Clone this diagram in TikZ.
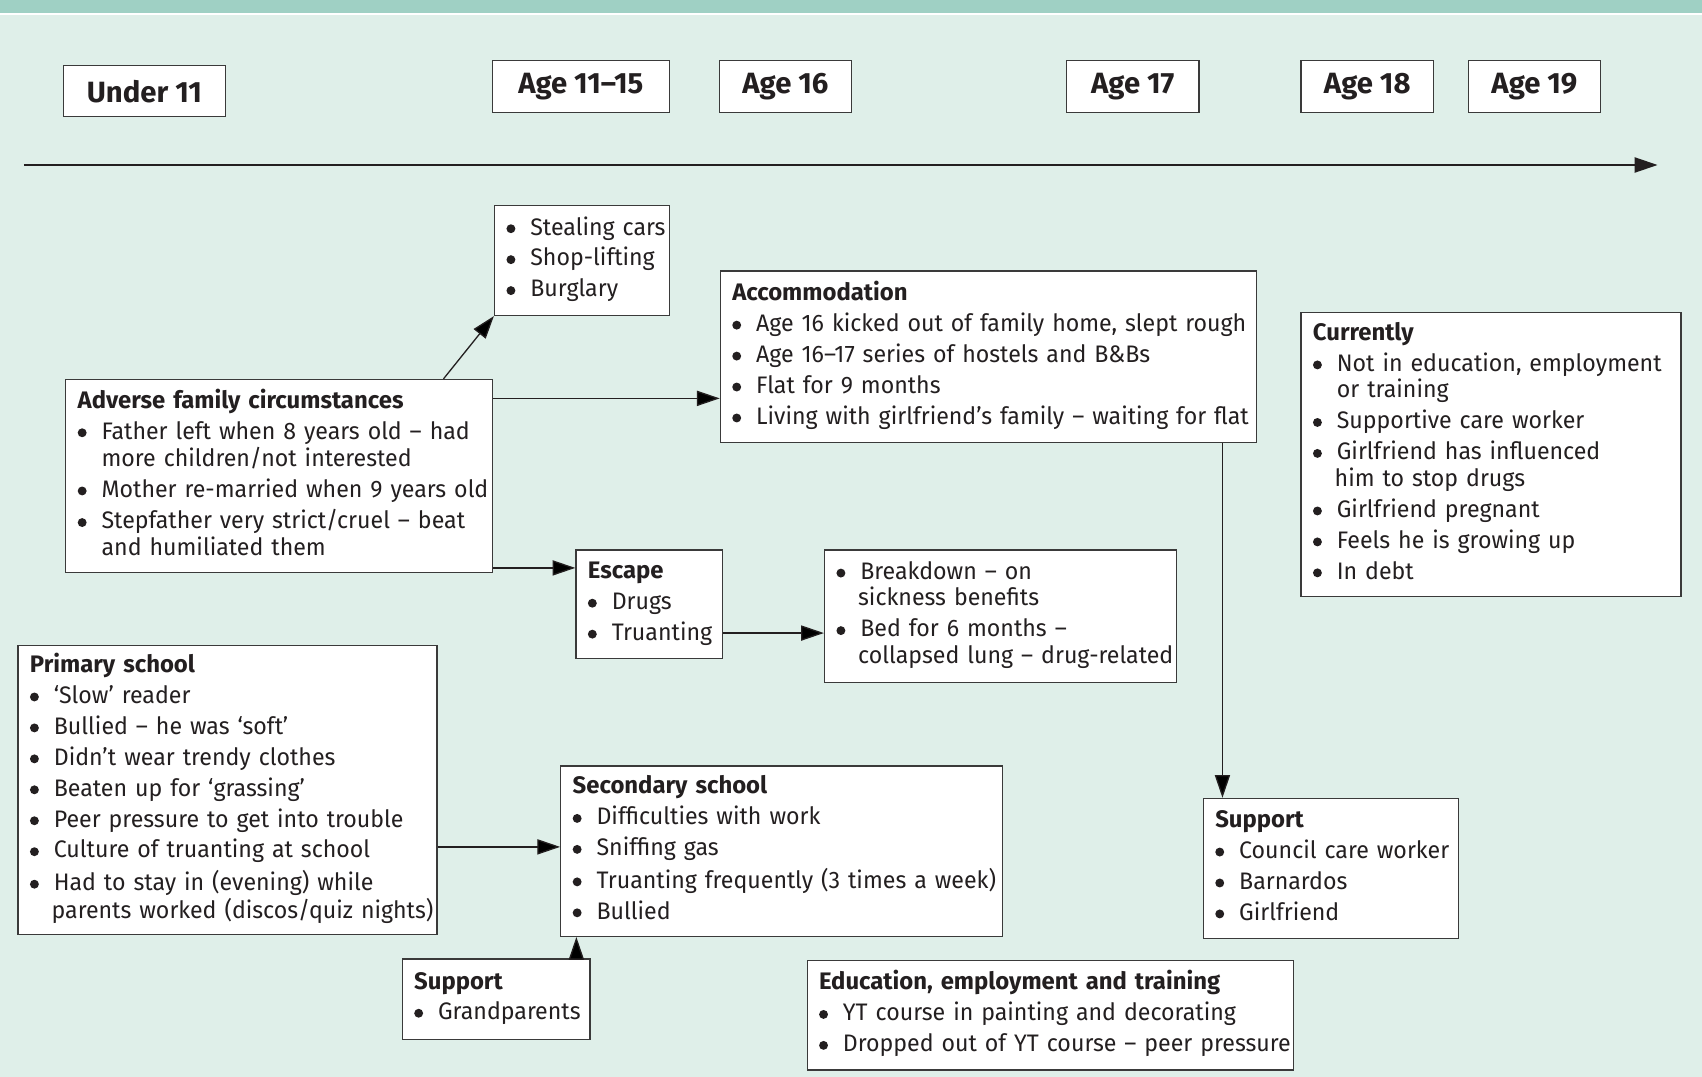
\documentclass[tikz,border=0pt]{standalone}
\usepackage{fontspec}
\setmainfont{Fira Sans}[UprightFeatures={FakeStretch=0.97}]
\usetikzlibrary{arrows.meta,calc}
\definecolor{mint}{HTML}{DFEFE9}
\definecolor{band}{HTML}{9FD0C4}
\definecolor{edge}{HTML}{3A3A3A}
\definecolor{ink}{HTML}{231F20}
% round bullet and hanging indent for list lines
\newcommand\bl{\makebox[11pt][l]{\tikz[baseline=0pt,x=1pt,y=1pt]\fill[ink] (2.1,2.9) circle[radius=2.05];}}
\newcommand\ct{\hspace*{11pt}}
\newcommand\hd[1]{\textbf{#1}}
\newcommand\lines[1]{\begin{tabular}{@{}l@{}}#1\end{tabular}}
\begin{document}
\begin{tikzpicture}[x=0.5pt,y=-0.5pt,
  box/.style={draw=edge, fill=white, line width=0.6pt, anchor=north west,
    align=left, inner xsep=5.5pt, inner ysep=0pt, text=ink,
    font=\fontsize{11}{12.25}\selectfont},
  agebox/.style={draw=edge, fill=white, line width=0.6pt, anchor=north west,
    inner sep=0pt, minimum height=24pt, text=ink,
    font=\fontsize{13.5}{15}\selectfont\bfseries},
  arr/.style={draw=ink, line width=0.6pt, -{Triangle[length=10.5pt,width=7pt]}},
]
% background and top band
\useasboundingbox (0,0) rectangle (1568,992);
\fill[mint] (0,0) rectangle (1568,992);
\fill[band] (0,0) rectangle (1568,11.7);
\fill[white] (0,11.7) rectangle (1568,13.8);

% age headings
\node[agebox, minimum width=74.5pt, minimum height=23.5pt] (u11) at (58,60) {Under 11};
\node[agebox, minimum width=81.5pt] (a1115) at (453,55) {Age 11--15};
\node[agebox, minimum width=61pt] (a16) at (662,55) {Age 16};
\node[agebox, minimum width=61pt] (a17) at (982,55) {Age 17};
\node[agebox, minimum width=61pt] (a18) at (1198,55) {Age 18};
\node[agebox, minimum width=61pt] (a19) at (1352,55) {Age 19};

% timeline
\coordinate (tl0) at (22,152);
\coordinate (tl1) at (1527,152);
\draw[arr] (tl0) -- (tl1);

% boxes
\node[box, text width=69.5pt, minimum height=50.5pt] (steal) at (455,189) {\lines{%
\bl Stealing cars\\[2pt]
\bl Shop-lifting\\[2pt]
\bl Burglary}};

\node[box, text width=236pt, minimum height=79pt] (accom) at (663,249) {\lines{%
\hd{Accommodation}\\[2pt]
\bl Age 16 kicked out of family home, slept rough\\[2pt]
\bl Age 16--17 series of hostels and B\&Bs\\[2pt]
\bl Flat for 9 months\\[2pt]
\bl Living with girlfriend's family -- waiting for flat}};

\node[box, text width=164pt, minimum height=131pt] (current) at (1198,287) {\lines{%
\hd{Currently}\\[2pt]
\bl Not in education, employment\\
\ct or training\\[2pt]
\bl Supportive care worker\\[2pt]
\bl Girlfriend has influenced\\
\hspace*{10pt}him to stop drugs\\[2pt]
\bl Girlfriend pregnant\\[2pt]
\bl Feels he is growing up\\[2pt]
\bl In debt}};

\node[box, text width=185.5pt, minimum height=89pt] (adverse) at (60,349) {\lines{%
\hd{Adverse family circumstances}\\[2pt]
\bl Father left when 8 years old -- had\\
\ct more children/not interested\\[2pt]
\bl Mother re-married when 9 years old\\[2pt]
\bl Stepfather very strict/cruel -- beat\\
\ct and humiliated them}};

\node[box, text width=56.5pt, minimum height=50pt] (escape) at (530,506) {\lines{%
\hd{Escape}\\[2pt]
\bl Drugs\\[2pt]
\bl Truanting}};

\node[box, text width=151pt, minimum height=61pt] (breakdown) at (759,506) {\lines{%
\bl Breakdown -- on\\
\hspace*{10pt}sickness benefits\\[2pt]
\bl Bed for 6 months --\\
\hspace*{10pt}collapsed lung -- drug-related}};

\node[box, text width=182pt, minimum height=133pt] (primary) at (16,594) {\lines{%
\hd{Primary school}\\[2pt]
\bl `Slow' reader\\[2pt]
\bl Bullied -- he was `soft'\\[2pt]
\bl Didn't wear trendy clothes\\[2pt]
\bl Beaten up for `grassing'\\[2pt]
\bl Peer pressure to get into trouble\\[2pt]
\bl Culture of truanting at school\\[2pt]
\bl Had to stay in (evening) while\\
\hspace*{10pt}parents worked (discos/quiz nights)}};

\node[box, text width=192.5pt, minimum height=78.5pt] (secondary) at (516,705) {\lines{%
\hd{Secondary school}\\[2pt]
\bl Difficulties with work\\[2pt]
\bl Sniffing gas\\[2pt]
\bl Truanting frequently (3 times a week)\\[2pt]
\bl Bullied}};

\node[box, text width=106.5pt, minimum height=64.5pt] (supR) at (1108,735) {\lines{%
\hd{Support}\\[2pt]
\bl Council care worker\\[2pt]
\bl Barnardos\\[2pt]
\bl Girlfriend}};

\node[box, text width=75.5pt, minimum height=37pt] (supG) at (370,883) {\lines{%
\hd{Support}\\[1.5pt]
\bl Grandparents}};

\node[box, text width=213pt, minimum height=50.5pt] (edu) at (743,884) {\lines{%
\hd{Education, employment and training}\\[2pt]
\bl YT course in painting and decorating\\[2pt]
\bl Dropped out of YT course -- peer pressure}};

% connectors
\draw[arr] ([xshift=75.75pt]adverse.north) -- (steal.south west);
\draw[arr] ([yshift=-9pt]adverse.north east) coordinate (p1) -- (p1 -| accom.west);
\draw[arr] ([yshift=2.5pt]adverse.south east) coordinate (p2) -- (p2 -| escape.west);
\draw[arr] ([yshift=12pt]escape.south east) coordinate (p3) -- (p3 -| breakdown.west);
\draw[arr] ([yshift=40.5pt]primary.south east) coordinate (p4) -- (p4 -| secondary.west);
\draw[arr] ([xshift=80.5pt]supG.north west) coordinate (p5) -- (p5 |- secondary.south);
\draw[arr] ([xshift=-16pt]accom.south east) coordinate (p6) -- (p6 |- supR.north);
\end{tikzpicture}
\end{document}
